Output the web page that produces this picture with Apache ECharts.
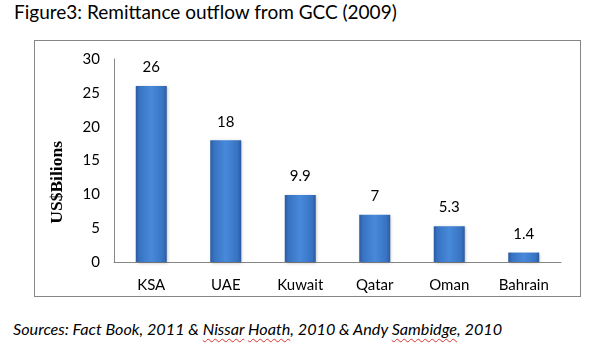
<!DOCTYPE html>
<html>
<head>
<meta charset="utf-8">
<script src="https://cdn.jsdelivr.net/npm/echarts@6/dist/echarts.min.js"></script>
<style>
  html, body { margin: 0; padding: 0; background: #fff; }
  .page { position: relative; width: 596px; height: 352px; overflow: hidden; font-family: Lato, "Open Sans", sans-serif; }
  .title { position: absolute; left: 14px; top: 0px; font-size: 19px; color: #000; white-space: nowrap; }
  .box { position: absolute; left: 34px; top: 40px; width: 547px; height: 257px; border: 1px solid #868686; box-sizing: border-box; }
  #chart { width: 100%; height: 100%; }
  .source { position: absolute; left: 13px; top: 319px; font-size: 16.2px; font-style: italic; color: #000; white-space: nowrap; }
  .sp { text-decoration: underline wavy #e03030; text-decoration-thickness: 1px; text-underline-offset: 3px; }
</style>
</head>
<body>
<div class="page">
  <div class="title">Figure3: Remittance outflow from GCC (2009)</div>
  <div class="box"><div id="chart"></div></div>
  <div class="source">Sources: Fact Book, 2011 &amp; <span class="sp">Nissar</span> <span class="sp">Hoath</span>, 2010 &amp; Andy <span class="sp">Sambidge</span>, 2010</div>
</div>
<script>
// 数据
const countries = ['KSA', 'UAE', 'Kuwait', 'Qatar', 'Oman', 'Bahrain']
const outflow = [26, 18, 9.9, 7, 5.3, 1.4]
const yTicks = { min: 0, max: 30, interval: 5 }
const yName = 'US$Bilions'

const chart = echarts.init(document.getElementById('chart'))

const barColor = new echarts.graphic.LinearGradient(0, 0, 1, 0, [
  { offset: 0, color: '#2b5a9f' },
  { offset: 0.12, color: '#3873c2' },
  { offset: 0.5, color: '#4889db' },
  { offset: 0.88, color: '#3873c2' },
  { offset: 1, color: '#2b5a9f' }
])

const option = {
  animation: false,
  grid: {
    left: 79,
    right: 19,
    top: 18,
    bottom: 34
  },
  // 纵轴标题（比轴中心略低）
  graphic: [
    {
      type: 'text',
      left: 13,
      top: 100,
      rotation: Math.PI / 2,
      style: {
        text: yName,
        fontFamily: '"Liberation Serif", "DejaVu Serif", serif',
        fontWeight: 'bold',
        fontSize: 17.5,
        fill: '#000'
      }
    }
  ],
  xAxis: {
    type: 'category',
    data: countries,
    axisLine: { lineStyle: { color: '#868686' } },
    axisTick: { show: false },
    axisLabel: {
      color: '#000',
      fontFamily: 'Lato',
      fontSize: 15,
      margin: 16
    }
  },
  yAxis: {
    type: 'value',
    min: yTicks.min,
    max: yTicks.max,
    interval: yTicks.interval,
    axisLine: { show: true, lineStyle: { color: '#868686' } },
    axisTick: { show: false },
    splitLine: { show: false },
    axisLabel: {
      color: '#000',
      fontFamily: 'Lato',
      fontSize: 15,
      margin: 14
    }
  },
  series: [
    {
      type: 'bar',
      data: outflow,
      barWidth: 31,
      itemStyle: {
        color: barColor,
        shadowColor: 'rgba(0, 0, 0, 0.25)',
        shadowBlur: 3,
        shadowOffsetX: 1,
        shadowOffsetY: 1
      },
      label: {
        show: true,
        position: 'top',
        distance: 11,
        color: '#000',
        fontFamily: 'Lato',
        fontSize: 15
      }
    }
  ]
}

chart.setOption(option)
</script>
</body>
</html>
